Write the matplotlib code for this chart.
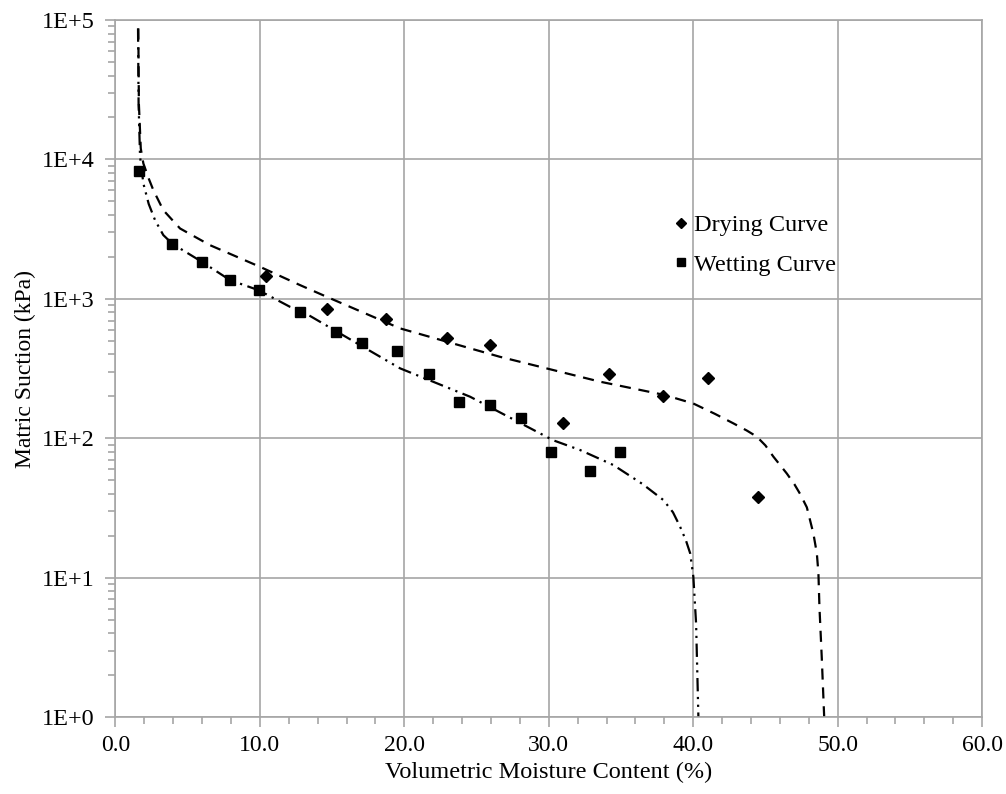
import numpy as np
import matplotlib
matplotlib.use("Agg")
import matplotlib.pyplot as plt
from matplotlib.ticker import FuncFormatter, FixedLocator, LogLocator, MultipleLocator

# Measured points
drying_theta = [10.45, 14.62, 18.73, 22.94, 25.94, 30.97, 34.2, 37.94, 41.05, 44.47]
drying_suction = [1460, 850, 713, 521, 467, 129, 289, 202, 272, 38]

wetting_theta = [1.63, 3.91, 5.99, 7.93, 9.94, 12.78, 15.27, 17.07, 19.49, 21.71,
                 23.79, 25.93, 28.08, 30.16, 32.86, 34.94]
wetting_suction = [8240, 2470, 1835, 1364, 1156, 804, 578, 482, 423, 289,
                   182, 173, 140, 80, 58, 80]

# Fitted curves
drying_fit_theta = [1.58, 1.62, 1.75, 1.93, 2.3, 2.62, 3.31, 4.47, 6.54, 10.0, 12.78, 14.63,
                    19.7, 26.6, 33.55, 38.0, 40.0, 41.5, 42.79, 43.7, 44.4, 45.0, 45.55,
                    46.48, 47.0, 47.4, 47.87, 48.32, 48.56, 48.67, 48.74, 48.9, 49.07]
drying_fit_suction = [87000, 25000, 12000, 9360, 7300, 6030, 4330, 3200, 2430, 1700, 1256, 1035,
                      615, 385, 255, 205, 178, 150, 128, 114, 103, 89, 74,
                      56, 47, 40, 32, 20.8, 15, 10.8, 6.2, 2.7, 1.0]

wetting_fit_theta = [1.56, 1.6, 1.7, 1.93, 2.3, 2.74, 3.31, 3.95, 6.0, 7.93, 9.9, 12.08,
                     12.78, 16.0, 19.7, 24.55, 30.3, 32.17, 34.47, 36.5, 37.94, 38.6,
                     39.09, 39.5, 39.79, 40.01, 40.2, 40.36]
wetting_fit_suction = [87000, 25000, 10500, 6730, 4800, 3670, 2870, 2480, 1840, 1364, 1156, 878,
                       831, 531, 318, 199, 97, 82.5, 64.4, 47, 36.1, 29.5,
                       23.3, 18.5, 15, 10.2, 4.7, 1.0]

plt.rcParams['font.family'] = ['Liberation Serif', 'DejaVu Serif']
grey = '#a6a6a6'

fig = plt.figure(figsize=(10.06, 7.94), dpi=100)
ax = fig.add_axes([0.1148, 0.0966, 0.8614, 0.8782])

ax.plot(drying_fit_theta, drying_fit_suction, color='black', lw=1.6,
        linestyle=(0, (5, 3.5)))
ax.plot(wetting_fit_theta, wetting_fit_suction, color='black', lw=1.6,
        linestyle=(0, (6, 2.5, 1, 2.5, 1, 2.5)))

ax.plot(drying_theta, drying_suction, 'D', color='black', ms=6, ls='none',
        label='Drying Curve')
ax.plot(wetting_theta, wetting_suction, 's', color='black', ms=7.5, ls='none',
        label='Wetting Curve')

ax.set_yscale('log')
ax.set_xlim(0, 60)
ax.set_ylim(1, 1e5)

ax.xaxis.set_major_locator(MultipleLocator(10))
ax.xaxis.set_minor_locator(MultipleLocator(2))
ax.xaxis.set_major_formatter(FuncFormatter(lambda v, p: f'{v:.1f}'))
ax.yaxis.set_major_locator(FixedLocator([1, 10, 100, 1e3, 1e4, 1e5]))
ax.yaxis.set_minor_locator(LogLocator(base=10, subs=np.arange(2, 10)))
ax.yaxis.set_major_formatter(FuncFormatter(lambda v, p: f'1E+{int(round(np.log10(v)))}'))

ax.grid(True, which='major', color=grey, lw=1.2)
ax.set_axisbelow(True)
for s in ax.spines.values():
    s.set_color(grey)
    s.set_linewidth(1.2)

ax.tick_params(which='major', direction='out', length=7, width=1.2, color=grey,
               labelsize=17, pad=6)
ax.tick_params(axis='y', which='major', pad=8, labelsize=17.5)
ax.tick_params(which='minor', direction='out', length=5, width=1.2, color=grey)

ax.set_xlabel('Volumetric Moisture Content (%)', fontsize=17.5, labelpad=4)
ax.set_ylabel('Matric Suction (kPa)', fontsize=17, labelpad=4)

ax.legend(loc='upper left', bbox_to_anchor=(0.619, 0.753), frameon=False,
          fontsize=17.5, handlelength=0.6, handletextpad=0.25, labelspacing=0.73,
          markerscale=0.8)

fig.savefig('out.png', dpi=100)
